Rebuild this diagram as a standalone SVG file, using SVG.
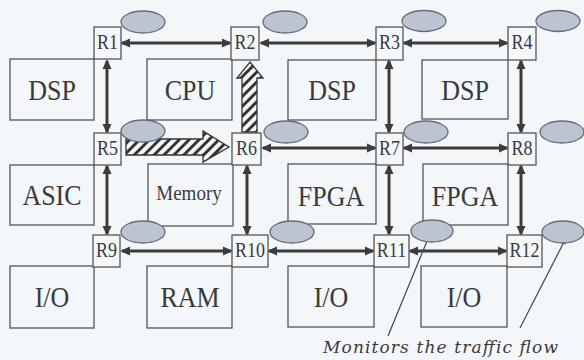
<svg xmlns="http://www.w3.org/2000/svg" width="584" height="360" viewBox="0 0 584 360">
<style>
.bg{fill:#f4f7fa}
.pe{fill:none;stroke:#555;stroke-width:1.3}
.rt{fill:#f4f7fa;stroke:#555;stroke-width:1.3}
.mon{fill:#bcc4d2;stroke:#666b78;stroke-width:1.3}
.lbl{font-family:'Liberation Serif','Times New Roman',Times,'DejaVu Serif',serif;font-size:26px;fill:#3a3a3a;text-anchor:middle}
.sm{font-size:19px}
.rl{font-family:'Liberation Serif','Times New Roman',Times,'DejaVu Serif',serif;font-size:18px;fill:#3a3a3a;text-anchor:middle}
.link{stroke:#3c3c3c;stroke-width:3;fill:none;marker-start:url(#ah);marker-end:url(#ah)}
.big{fill:url(#hatch);stroke:#333;stroke-width:1.3;stroke-linejoin:miter}
.lead{stroke:#444;stroke-width:1.2;fill:none;marker-end:url(#sa)}
.note{font-family:'DejaVu Serif','Liberation Serif',serif;font-style:italic;font-size:17px;fill:#3a3a3a}
</style>
<defs>
<marker id="ah" viewBox="0 0 10 10" refX="8" refY="5" markerWidth="10" markerHeight="10" markerUnits="userSpaceOnUse" orient="auto-start-reverse">
<path d="M0,0.5 L10,5 L0,9.5 Z" fill="#3c3c3c"/>
</marker>
<marker id="sa" viewBox="0 0 8 8" refX="7" refY="4" markerWidth="7" markerHeight="7" markerUnits="userSpaceOnUse" orient="auto">
<path d="M0,1 L8,4 L0,7 Z" fill="#444"/>
</marker>
<pattern id="hatch" patternUnits="userSpaceOnUse" width="7" height="7" patternTransform="rotate(45)">
<rect width="7" height="7" fill="#f4f7fa"/>
<line x1="1.5" y1="0" x2="1.5" y2="7" stroke="#2a2a2a" stroke-width="2.8"/>
</pattern>
</defs>
<rect class="bg" width="584" height="360"/>

<g id="pe-dsp1"><rect class="pe" x="10" y="59" width="84" height="61"/><text class="lbl" transform="translate(52,100) scale(1,1.12)">DSP</text></g>
<g id="pe-cpu"><rect class="pe" x="147" y="59" width="85" height="61"/><text class="lbl" transform="translate(190,100) scale(1,1.12)">CPU</text></g>
<g id="pe-dsp3"><rect class="pe" x="288" y="60" width="88" height="60"/><text class="lbl" transform="translate(332,100) scale(1,1.12)">DSP</text></g>
<g id="pe-dsp4"><rect class="pe" x="422" y="60" width="86" height="59"/><text class="lbl" transform="translate(465,100) scale(1,1.12)">DSP</text></g>

<g id="pe-asic"><rect class="pe" x="10" y="165" width="84" height="60"/><text class="lbl" transform="translate(52,205) scale(1,1.12)">ASIC</text></g>
<g id="pe-memory"><rect class="pe" x="148" y="164" width="85" height="62"/><text class="lbl sm" transform="translate(189,200) scale(1,1.12)">Memory</text></g>
<g id="pe-fpga3"><rect class="pe" x="288" y="164" width="88" height="60"/><text class="lbl" transform="translate(331,206) scale(1,1.12)">FPGA</text></g>
<g id="pe-fpga4"><rect class="pe" x="423" y="164" width="85" height="61"/><text class="lbl" transform="translate(465,206) scale(1,1.12)">FPGA</text></g>

<g id="pe-io1"><rect class="pe" x="10" y="266" width="84" height="62"/><text class="lbl" transform="translate(52,307) scale(1,1.12)">I/O</text></g>
<g id="pe-ram"><rect class="pe" x="147" y="266" width="85" height="62"/><text class="lbl" transform="translate(190,307) scale(1,1.12)">RAM</text></g>
<g id="pe-io3"><rect class="pe" x="288" y="266" width="86" height="61"/><text class="lbl" transform="translate(331,307) scale(1,1.12)">I/O</text></g>
<g id="pe-io4"><rect class="pe" x="421" y="266" width="86" height="61"/><text class="lbl" transform="translate(464,307) scale(1,1.12)">I/O</text></g>

<g id="connectors">
<path class="link" d="M122,43 H230"/>
<path class="link" d="M261,43 H375"/>
<path class="link" d="M404,43 H507"/>
<path class="link" d="M263,148 H375"/>
<path class="link" d="M404,148 H507"/>
<path class="link" d="M122,251 H231"/>
<path class="link" d="M269,251 H373"/>
<path class="link" d="M410,251 H506"/>
<path class="link" d="M107,61 V132"/>
<path class="link" d="M107,166 V234"/>
<path class="link" d="M247,166 V234"/>
<path class="link" d="M389,61 V132"/>
<path class="link" d="M389,166 V234"/>
<path class="link" d="M521,61 V132"/>
<path class="link" d="M521,166 V234"/>
<polygon class="big" points="126,139 203,139 203,131 229,147 203,162 203,155 126,155"/>
<polygon class="big" points="242,132 242,78 237,78 250,62 263,78 257,78 257,132"/>
<line class="lead" x1="388" y1="336" x2="432" y2="229"/>
<line class="lead" x1="520" y1="328" x2="566" y2="238"/>
</g>

<g id="r1"><rect class="rt" x="94" y="27" width="27" height="32"/><text class="rl" transform="translate(107.5,49) scale(1,1.15)">R1</text><ellipse class="mon" cx="143" cy="22" rx="22" ry="11"/></g>
<g id="r2"><rect class="rt" x="231" y="27" width="28" height="33"/><text class="rl" transform="translate(245,49) scale(1,1.15)">R2</text><ellipse class="mon" cx="285" cy="22" rx="22" ry="11"/></g>
<g id="r3"><rect class="rt" x="376" y="27" width="27" height="33"/><text class="rl" transform="translate(389.5,49) scale(1,1.15)">R3</text><ellipse class="mon" cx="424" cy="21" rx="22" ry="10.5"/></g>
<g id="r4"><rect class="rt" x="508" y="27" width="28" height="33"/><text class="rl" transform="translate(522,49) scale(1,1.15)">R4</text><ellipse class="mon" cx="558" cy="21" rx="22" ry="10.5"/></g>

<g id="r5"><rect class="rt" x="94" y="133" width="27" height="32"/><text class="rl" transform="translate(107.5,155) scale(1,1.15)">R5</text><ellipse class="mon" cx="143" cy="131" rx="22" ry="11"/></g>
<g id="r6"><rect class="rt" x="232" y="133" width="29" height="32"/><text class="rl" transform="translate(246.5,155) scale(1,1.15)">R6</text><ellipse class="mon" cx="286" cy="132" rx="22" ry="11"/></g>
<g id="r7"><rect class="rt" x="376" y="133" width="27" height="32"/><text class="rl" transform="translate(389.5,155) scale(1,1.15)">R7</text><ellipse class="mon" cx="426" cy="132" rx="22" ry="11"/></g>
<g id="r8"><rect class="rt" x="508" y="133" width="28" height="32"/><text class="rl" transform="translate(522,155) scale(1,1.15)">R8</text><ellipse class="mon" cx="562" cy="132" rx="22" ry="11"/></g>

<g id="r9"><rect class="rt" x="93" y="235" width="27" height="32"/><text class="rl" transform="translate(106.5,257) scale(1,1.15)">R9</text><ellipse class="mon" cx="143" cy="232" rx="22" ry="11"/></g>
<g id="r10"><rect class="rt" x="232" y="235" width="36" height="32"/><text class="rl" transform="translate(250,257) scale(1,1.15)">R10</text><ellipse class="mon" cx="292" cy="232" rx="22" ry="11"/></g>
<g id="r11"><rect class="rt" x="374" y="235" width="35" height="32"/><text class="rl" transform="translate(391.5,257) scale(1,1.15)">R11</text><ellipse class="mon" cx="432" cy="231" rx="21" ry="11"/></g>
<g id="r12"><rect class="rt" x="507" y="235" width="35" height="32"/><text class="rl" transform="translate(524.5,257) scale(1,1.15)">R12</text><ellipse class="mon" cx="563" cy="232" rx="21" ry="11"/></g>

<g id="note"><text class="note" x="323" y="353" textLength="235" lengthAdjust="spacing">Monitors the traffic flow</text></g>
</svg>
